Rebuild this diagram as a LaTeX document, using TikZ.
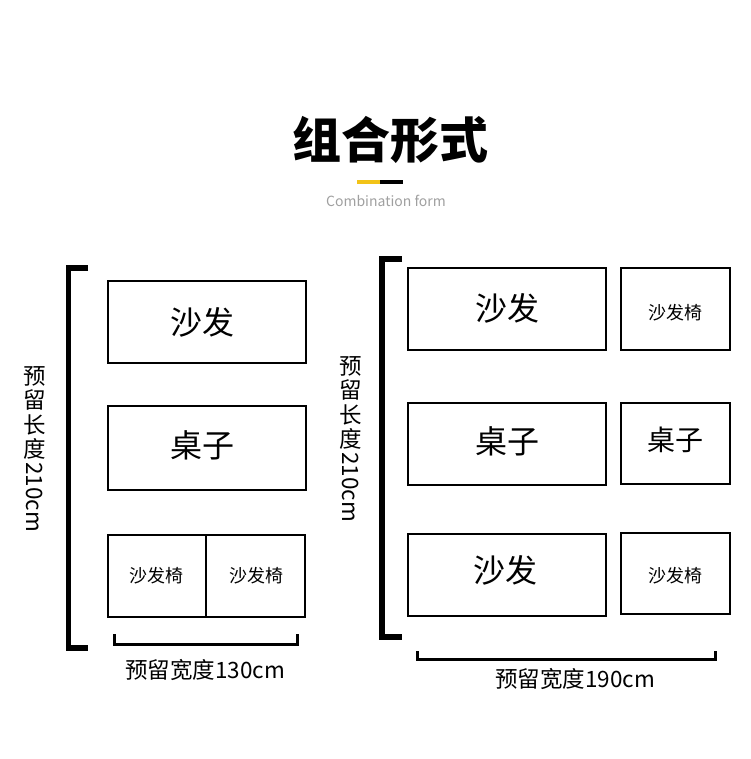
\documentclass[tikz,border=0pt]{standalone}
\usepackage{fontspec}
\setmainfont{Noto Sans CJK SC}
\usepackage{graphicx}
\definecolor{accent}{HTML}{F2C318}
\definecolor{subgray}{HTML}{A0A0A0}
\begin{document}
\begin{tikzpicture}[x=1pt,y=-1pt,
  box/.style={draw=black, line width=2pt, inner sep=0pt},
  bigtxt/.style={font=\fontsize{32}{34}\selectfont},
  midtxt/.style={font=\fontsize{28}{30}\selectfont},
  smalltxt/.style={font=\fontsize{18}{20}\selectfont},
  dimtxt/.style={font=\fontsize{22.5}{23}\selectfont, inner sep=0pt},
  vstack/.style={font=\fontsize{22.5}{24.5}\selectfont, inner sep=0pt, align=center, anchor=north},
  bracketv/.style={line width=5.5pt},
  brackeh/.style={line width=3pt}
]
\useasboundingbox[fill=white] (0,0) rectangle (750,759);

% title
\node[font=\fontsize{49}{52}\selectfont\bfseries] (title) at (390,140) {组合形式};
\draw[line width=3.5pt, accent] (357,182) -- (380,182);
\draw[line width=3.5pt, black] (380,182) -- (403,182);
\node[font=\fontsize{14}{16}\selectfont, text=subgray] (sub) at (386,201) {Combination form};

% left column
\draw[box] (108,281) rectangle (306,363);
\node[bigtxt] (la) at (202,322) {沙发};
\draw[box] (108,406) rectangle (306,490);
\node[bigtxt] (lb) at (202,445) {桌子};
\draw[box] (108,535) rectangle (305,617);
\draw[line width=2pt] (206,535) -- (206,617);
\node[smalltxt] (lc1) at (156,576) {沙发椅};
\node[smalltxt] (lc2) at (256,576) {沙发椅};

% left vertical bracket
\draw[bracketv] (88,268) -- (68.5,268) -- (68.5,648) -- (88,648);
\node[vstack] (lenA1) at (35,366) {预\\留\\长\\度};
\node[dimtxt, rotate=-90, anchor=west] (lenA2) at (35,462) {210cm};

% left horizontal bracket
\draw[brackeh] (114,634) -- (114,644) -- (297,644) -- (297,634);
\node[dimtxt] (widA) at (205,670) {预留宽度130cm};

% right column
\draw[box] (408,268) rectangle (606,350);
\node[bigtxt] (ra) at (507,308) {沙发};
\draw[box] (408,403) rectangle (606,485);
\node[bigtxt] (rb) at (507,441) {桌子};
\draw[box] (408,534) rectangle (606,616);
\node[bigtxt] (rc) at (505,570) {沙发};

\draw[box] (621,268) rectangle (730,350);
\node[smalltxt] (sa) at (675,313) {沙发椅};
\draw[box] (621,403) rectangle (730,484);
\node[midtxt] (sb) at (675,440) {桌子};
\draw[box] (621,533) rectangle (730,614);
\node[smalltxt] (sc) at (675,576) {沙发椅};

% right vertical bracket
\draw[bracketv] (402,259) -- (382,259) -- (382,637) -- (402,637);
\node[vstack] (lenB1) at (351,356) {预\\留\\长\\度};
\node[dimtxt, rotate=-90, anchor=west] (lenB2) at (351,452) {210cm};

% right horizontal bracket
\draw[brackeh] (417,651) -- (417,659) -- (715,659) -- (715,651);
\node[dimtxt] (widB) at (575,679) {预留宽度190cm};
\end{tikzpicture}
\end{document}
